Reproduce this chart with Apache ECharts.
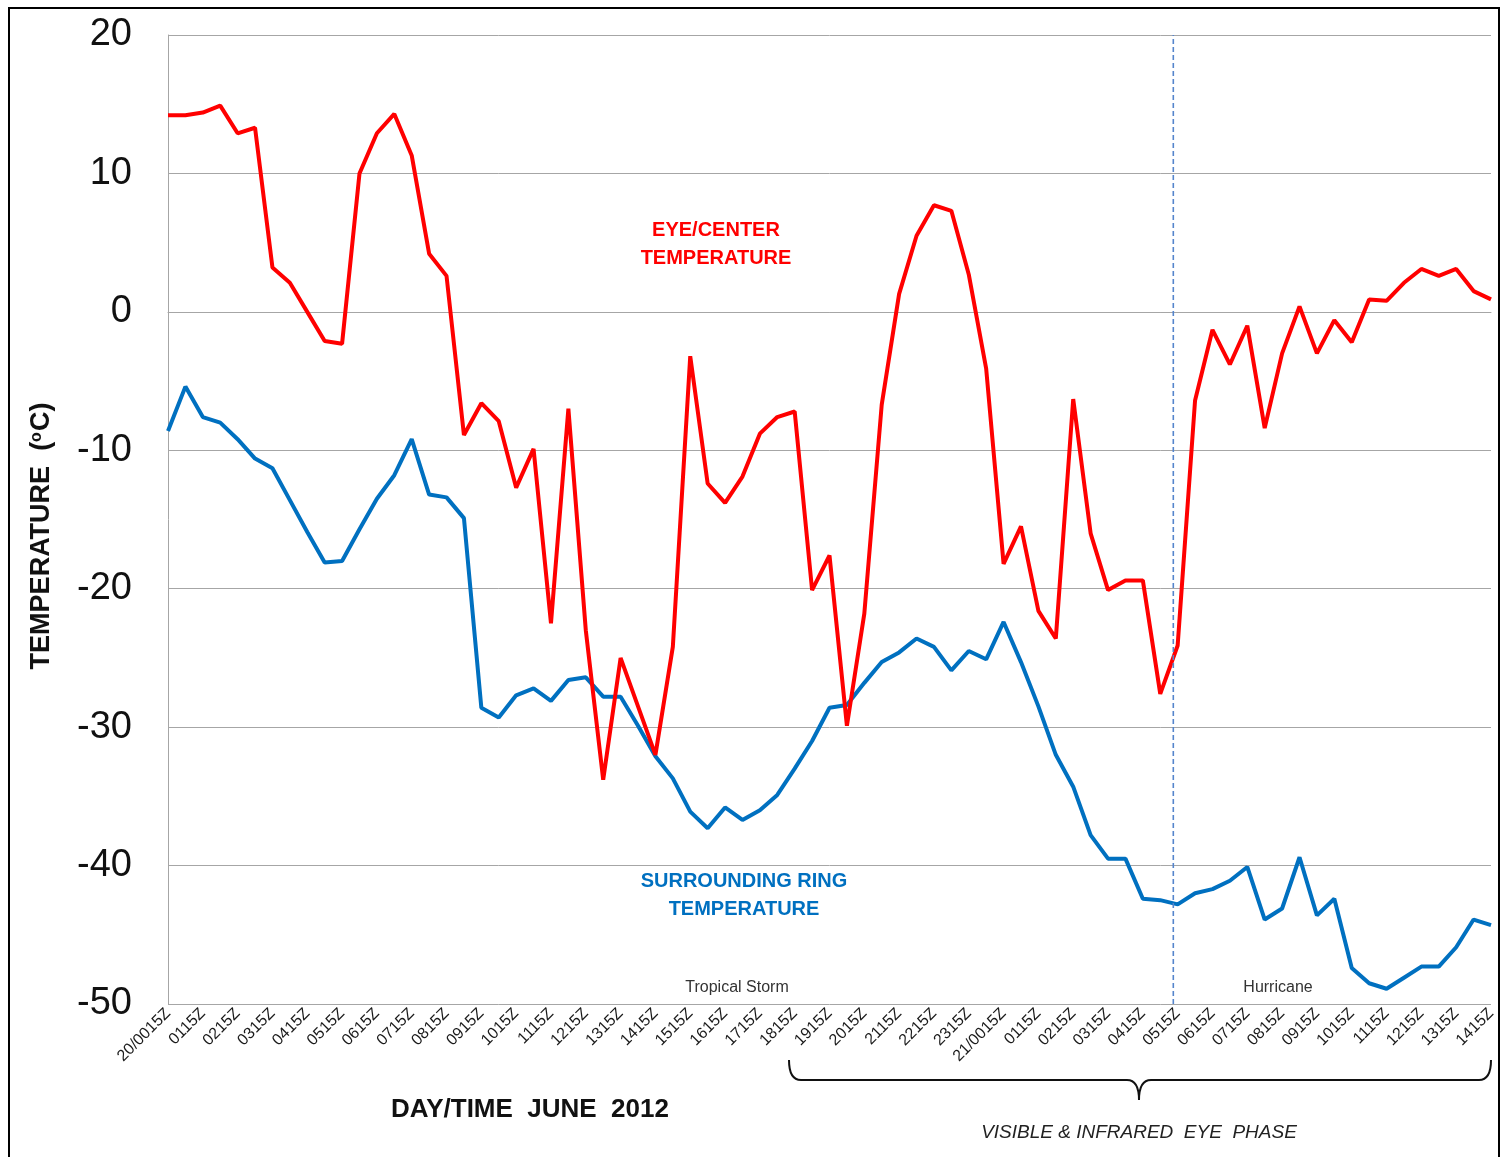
<!DOCTYPE html>
<html>
<head>
<meta charset="utf-8">
<script src="https://cdn.jsdelivr.net/npm/echarts@6/dist/echarts.min.js"></script>
<style>
html,body{margin:0;padding:0;background:#fff;}
#chart{width:1508px;height:1157px;}
</style>
</head>
<body>
<div id="chart"></div>
<script>
// Half-hourly observation times (labels shown every hour)
var categories = [
'20/0015Z','0045Z','0115Z','0145Z','0215Z','0245Z','0315Z','0345Z','0415Z','0445Z',
'0515Z','0545Z','0615Z','0645Z','0715Z','0745Z','0815Z','0845Z','0915Z','0945Z',
'1015Z','1045Z','1115Z','1145Z','1215Z','1245Z','1315Z','1345Z','1415Z','1445Z',
'1515Z','1545Z','1615Z','1645Z','1715Z','1745Z','1815Z','1845Z','1915Z','1945Z',
'2015Z','2045Z','2115Z','2145Z','2215Z','2245Z','2315Z','2345Z','21/0015Z','0045Z',
'0115Z','0145Z','0215Z','0245Z','0315Z','0345Z','0415Z','0445Z','0515Z','0545Z',
'0615Z','0645Z','0715Z','0745Z','0815Z','0845Z','0915Z','0945Z','1015Z','1045Z',
'1115Z','1145Z','1215Z','1245Z','1315Z','1345Z','1415Z'
];

// Eye / center temperature (deg C)
var eyeTemp = [
14.2, 14.2, 14.4, 14.9, 12.9, 13.3, 3.2, 2.1, 0.0, -2.1,
-2.3, 10.0, 12.9, 14.3, 11.3, 4.2, 2.6, -8.9, -6.6, -7.9,
-12.7, -9.9, -22.5, -7.0, -23.0, -33.8, -25.0, -28.5, -32.0, -24.2,
-3.2, -12.4, -13.8, -11.9, -8.8, -7.6, -7.2, -20.1, -17.6, -29.9,
-21.8, -6.7, 1.3, 5.5, 7.7, 7.3, 2.7, -4.1, -18.2, -15.5,
-21.6, -23.6, -6.3, -16.0, -20.1, -19.4, -19.4, -27.6, -24.1, -6.4,
-1.3, -3.8, -1.0, -8.4, -3.0, 0.4, -3.0, -0.6, -2.2, 0.9,
0.8, 2.1, 3.1, 2.6, 3.1, 1.5, 0.9
];

// Surrounding ring temperature (deg C)
var ringTemp = [
-8.6, -5.4, -7.6, -8.0, -9.2, -10.6, -11.3, -13.6, -15.9, -18.1,
-18.0, -15.7, -13.5, -11.8, -9.2, -13.2, -13.4, -14.9, -28.6, -29.3,
-27.7, -27.2, -28.1, -26.6, -26.4, -27.8, -27.8, -29.9, -32.1, -33.7,
-36.1, -37.3, -35.8, -36.7, -36.0, -34.9, -33.0, -31.0, -28.6, -28.4,
-26.8, -25.3, -24.6, -23.6, -24.2, -25.9, -24.5, -25.1, -22.4, -25.3,
-28.5, -32.0, -34.3, -37.8, -39.5, -39.5, -42.4, -42.5, -42.8, -42.0,
-41.7, -41.1, -40.1, -43.9, -43.1, -39.4, -43.6, -42.4, -47.4, -48.5,
-48.9, -48.1, -47.3, -47.3, -45.9, -43.9, -44.3
];

// Tropical storm -> hurricane transition (position in category-index units)
var transitionIndex = [57.75];

var yMin = -50, yMax = 20, yStep = 10;

var chart = echarts.init(document.getElementById('chart'));
var FONT = 'Liberation Sans, Arial, sans-serif';
var braceStyle = {fill: 'none', stroke: '#111', lineWidth: 2};

var option = {
  backgroundColor: '#ffffff',
  animation: false,
  grid: {left: 168, right: 17, top: 35, bottom: 153},
  xAxis: [{
    type: 'category',
    data: categories,
    boundaryGap: false,
    axisLine: {show: true, lineStyle: {color: '#A6A6A6', width: 1}},
    axisTick: {show: false},
    axisLabel: {
      interval: 1, rotate: 45, fontSize: 16, color: '#1a1a1a', fontFamily: FONT, margin: 7
    },
    splitLine: {show: false}
  }, {
    type: 'value',
    min: 0, max: categories.length - 1,
    show: false
  }],
  yAxis: {
    type: 'value',
    min: yMin, max: yMax, interval: yStep,
    axisLine: {show: true, lineStyle: {color: '#A6A6A6', width: 1}},
    axisTick: {show: false},
    axisLabel: {fontSize: 38, color: '#111', fontFamily: FONT, margin: 36},
    splitLine: {show: true, lineStyle: {color: '#A6A6A6', width: 1}}
  },
  series: [{
    name: 'EYE/CENTER TEMPERATURE',
    type: 'line',
    data: eyeTemp,
    showSymbol: false,
    lineStyle: {color: '#FF0000', width: 4},
    itemStyle: {color: '#FF0000'},
    z: 3
  }, {
    name: 'SURROUNDING RING TEMPERATURE',
    type: 'line',
    data: ringTemp,
    showSymbol: false,
    lineStyle: {color: '#0070C0', width: 4},
    itemStyle: {color: '#0070C0'},
    z: 2
  }, {
    name: 'transition',
    type: 'line',
    xAxisIndex: 1,
    data: [[transitionIndex[0], yMin], [transitionIndex[0], yMax]],
    showSymbol: false,
    silent: true,
    lineStyle: {color: '#5585CC', width: 1.6, type: [5, 3]},
    z: 4
  }],
  graphic: [
    {type: 'rect', shape: {x: 9, y: 8, width: 1490, height: 1170}, style: {fill: 'none', stroke: '#000', lineWidth: 2}, silent: true},
    {type: 'text', x: 42, y: 536, rotation: Math.PI / 2,
      style: {
        text: '{a|TEMPERATURE  (}{s|o}{a|C)}', align: 'center', verticalAlign: 'middle',
        rich: {
          a: {font: 'bold 27px ' + FONT, fill: '#111'},
          s: {font: 'bold 16px ' + FONT, fill: '#111', verticalAlign: 'top', padding: [0, 1, 10, 0]}
        }
      }},
    {type: 'text', x: 716, y: 244, style: {text: 'EYE/CENTER\nTEMPERATURE', fill: '#FF0000', font: 'bold 20px ' + FONT, align: 'center', verticalAlign: 'middle', lineHeight: 28}},
    {type: 'text', x: 744, y: 895, style: {text: 'SURROUNDING RING\nTEMPERATURE', fill: '#0070C0', font: 'bold 20px ' + FONT, align: 'center', verticalAlign: 'middle', lineHeight: 28}},
    {type: 'text', x: 737, y: 988, style: {text: 'Tropical Storm', fill: '#333', font: '16px ' + FONT, align: 'center', verticalAlign: 'middle'}},
    {type: 'text', x: 1278, y: 988, style: {text: 'Hurricane', fill: '#333', font: '16px ' + FONT, align: 'center', verticalAlign: 'middle'}},
    {type: 'text', x: 530, y: 1110, style: {text: 'DAY/TIME  JUNE  2012', fill: '#111', font: 'bold 26px ' + FONT, align: 'center', verticalAlign: 'middle'}},
    {type: 'text', x: 1139, y: 1133, style: {text: 'VISIBLE & INFRARED  EYE  PHASE', fill: '#222', font: 'italic 19px ' + FONT, align: 'center', verticalAlign: 'middle'}},
    {type: 'bezierCurve', shape: {x1: 789, y1: 1060, cpx1: 789, cpy1: 1080, x2: 801, y2: 1080}, style: braceStyle, silent: true},
    {type: 'line', shape: {x1: 801, y1: 1080, x2: 1127, y2: 1080}, style: braceStyle, silent: true},
    {type: 'bezierCurve', shape: {x1: 1127, y1: 1080, cpx1: 1139, cpy1: 1080, x2: 1139, y2: 1100}, style: braceStyle, silent: true},
    {type: 'bezierCurve', shape: {x1: 1139, y1: 1100, cpx1: 1139, cpy1: 1080, x2: 1151, y2: 1080}, style: braceStyle, silent: true},
    {type: 'line', shape: {x1: 1151, y1: 1080, x2: 1479, y2: 1080}, style: braceStyle, silent: true},
    {type: 'bezierCurve', shape: {x1: 1479, y1: 1080, cpx1: 1491, cpy1: 1080, x2: 1491, y2: 1060}, style: braceStyle, silent: true}
  ]
};
chart.setOption(option);
</script>
</body>
</html>
